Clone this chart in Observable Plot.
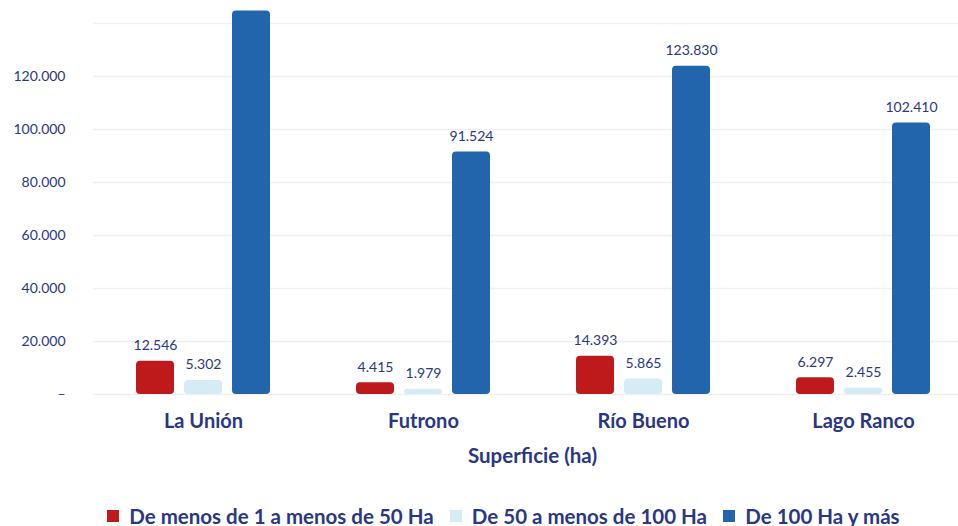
<!DOCTYPE html>
<html><head><meta charset="utf-8">
<script src="https://cdn.jsdelivr.net/npm/d3@7"></script>
<script src="https://cdn.jsdelivr.net/npm/@observablehq/plot@0.6"></script>
<style>
body{margin:0;background:#fff;font-family:Lato, sans-serif;}
#chart{width:958px;height:526px;overflow:hidden;position:relative;background:#fff}
#chart [class$="-swatch"]{margin-right:16px}
</style></head><body><div id="chart"></div>
<script>
const municipios = ["La Unión", "Futrono", "Río Bueno", "Lago Ranco"];
const series = ["De menos de 1 a menos de 50 Ha", "De 50 a menos de 100 Ha", "De 100 Ha y más"];
const menos50 = [12546, 4415, 14393, 6297];
const de50a100 = [5302, 1979, 5865, 2455];
const mas100 = [144700, 91524, 123830, 102410];
const colors = ["#be1a1b", "#d5ebf6", "#2265ad"];
const yTicks = [0, 20000, 40000, 60000, 80000, 100000, 120000, 140000];
const yTickLabels = ["–", "20.000", "40.000", "60.000", "80.000", "100.000", "120.000", ""];
const xTitle = "Superficie (ha)";

const seriesValues = [menos50, de50a100, mas100];
const data = municipios.flatMap((m, i) => series.map((s, j) => ({m, s, v: seriesValues[j][i]})));
const yMax = 140000;
const fmt = d3.formatLocale({decimal: ",", thousands: ".", grouping: [3], currency: ["$", ""]}).format(",d");
const navy = "#2a3782";

const plot = Plot.plot({
  width: 958, height: 495,
  marginLeft: 91, marginRight: 0, marginTop: 0, marginBottom: 101,
  style: {fontFamily: "Lato, sans-serif", color: navy, background: "white"},
  fx: {domain: municipios, range: [91, 974], padding: 0},
  x: {domain: series, paddingInner: 0.2, paddingOuter: 0.85, axis: null},
  y: {domain: [0, yMax], range: [394, 23]},
  color: {domain: series, range: colors},
  marks: [
    Plot.gridY(yTicks, {stroke: "#f0f0f0", strokeOpacity: 1, strokeWidth: 1.5}),
    Plot.axisY(yTicks, {tickSize: 0, tickPadding: 28, tickFormat: (d) => yTickLabels[yTicks.indexOf(d)], fontSize: 14, fill: navy, label: null}),
    Plot.axisFx({anchor: "bottom", tickSize: 0, tickPadding: 19, fontSize: 20, fontWeight: "bold", fill: navy, label: null}),
    Plot.text([xTitle], {facet: "super", frameAnchor: "bottom", dx: -1, dy: 68, fontSize: 20.5, fontWeight: "bold", fill: navy}),
    Plot.barY(data, {fx: "m", x: "s", y: "v", fill: "s", rx: 4}),
    Plot.text(data.filter(d => d.v <= yMax), {fx: "m", x: "s", y: "v", text: d => fmt(d.v), dy: -11, lineAnchor: "bottom", fill: navy, fontSize: 14})
  ]
});
const chart = document.getElementById("chart");
chart.appendChild(plot);
const legend = Plot.legend({color: {domain: series, range: colors}, legend: "swatches", swatchSize: 12,
  style: {marginLeft: "107px", marginTop: "4px", fontSize: "20.5px", fontWeight: "bold", color: navy, fontFamily: "Lato, sans-serif"}});
chart.appendChild(legend);
</script></body></html>
